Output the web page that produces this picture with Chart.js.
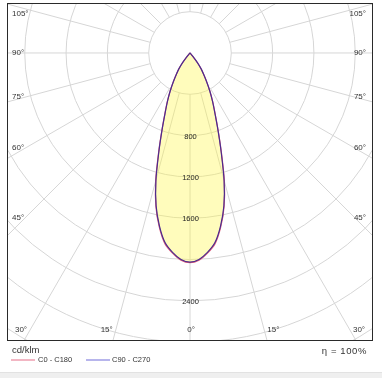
<!DOCTYPE html>
<html>
<head>
<meta charset="utf-8">
<script src="https://cdn.jsdelivr.net/npm/chart.js@4/dist/chart.umd.min.js"></script>
<style>
    body { margin: 0; background: #fff; font-family: Arial, "Liberation Sans", sans-serif; }
    #wrap { position: relative; width: 382px; height: 378px; overflow: hidden; }
    #chartBox { position: absolute; left: 0; top: 0; width: 382px; height: 378px; }
    .txt { position: absolute; color: #333; line-height: 1; white-space: nowrap; }
    .swatch { position: absolute; height: 2px; width: 24px; }
    #band { position: absolute; left: 0; top: 372px; width: 382px; height: 6px; background: #efefef; border-top: 1px solid #e2e2e2; }
</style>
</head>
<body>
<div id="wrap">
    <div id="chartBox"><canvas id="polarChart"></canvas></div>
    <div class="txt" style="left:12px; top:345px; font-size:9.5px;">cd/klm</div>
    <div class="swatch" style="left:11px; top:359px; background:#f2b6c3;"></div>
    <div class="txt" style="left:38px; top:356px; font-size:7.5px;">C0 - C180</div>
    <div class="swatch" style="left:86px; top:359px; background:#b7b5ec;"></div>
    <div class="txt" style="left:112px; top:356px; font-size:7.5px;">C90 - C270</div>
    <div class="txt" style="right:15px; top:346px; font-size:9.5px; letter-spacing:0.6px;">η = 100%</div>
    <div id="band"></div>
</div>
<script>
// Gamma angles (deg, 0 = straight down) and intensities in cd/klm
const gammaAngles = [0, 2.5, 5, 7.5, 10, 12.5, 15, 17.5, 20, 22.5, 25, 27.5, 30, 32.5, 35, 37.5, 40, 42.5, 45, 90, 135, 180];
const c0c180  = [2030, 2008, 1945, 1862, 1712, 1525, 1285, 1012, 795, 635, 520, 418, 326, 248, 190, 122, 42, 0, 0, 0, 0, 0];
const c90c270 = [2025, 2001, 1938, 1852, 1702, 1516, 1275, 1003, 790, 630, 515, 415, 322, 245, 188, 120, 40, 0, 0, 0, 0, 0];

// Grid
const ringValues = [400, 800, 1200, 1600, 2000, 2400, 2800, 3200, 3600, 4000, 4400];
const ringLabels = [800, 1200, 1600, 2400];
const angleTicks = [0, 15, 30, 45, 60, 75, 90, 105];
const spokeStep = 15;

const rad = d => d * Math.PI / 180;

// left half (C180 / C270) from the top down to 0, then right half (C0 / C90) back up
function toPoints(values) {
    const pts = [];
    for (let i = gammaAngles.length - 1; i >= 0; i--) {
        const a = rad(gammaAngles[i]);
        pts.push({ x: -values[i] * Math.sin(a), y: -values[i] * Math.cos(a) });
    }
    for (let i = 1; i < gammaAngles.length; i++) {
        const a = rad(gammaAngles[i]);
        pts.push({ x: values[i] * Math.sin(a), y: -values[i] * Math.cos(a) });
    }
    return pts;
}

const polarGrid = {
    id: 'polarGrid',
    beforeDatasetsDraw(chart) {
        const { ctx, chartArea: area, scales: { x, y } } = chart;
        const cx = x.getPixelForValue(0);
        const cy = y.getPixelForValue(0);
        const k = x.getPixelForValue(1000) - cx;

        ctx.save();
        ctx.beginPath();
        ctx.rect(area.left, area.top, area.right - area.left, area.bottom - area.top);
        ctx.clip();
        ctx.strokeStyle = '#d6d6d6';
        ctx.lineWidth = 1;

        ringValues.forEach(v => {
            ctx.beginPath();
            ctx.arc(cx, cy, v * k / 1000, 0, Math.PI * 2);
            ctx.stroke();
        });

        const r0 = ringValues[0] * k / 1000;
        const r1 = 6000 * k / 1000;
        for (let d = 0; d < 360; d += spokeStep) {
            const a = rad(d);
            const sx = Math.sin(a), sy = Math.cos(a);
            ctx.beginPath();
            ctx.moveTo(cx + sx * r0, cy + sy * r0);
            ctx.lineTo(cx + sx * r1, cy + sy * r1);
            ctx.stroke();
        }
        ctx.restore();
    },
    afterDatasetsDraw(chart) {
        const { ctx, chartArea: area, scales: { x, y } } = chart;
        const cx = x.getPixelForValue(0);
        const cy = y.getPixelForValue(0);

        ctx.save();
        // frame
        ctx.strokeStyle = '#2a2a2a';
        ctx.lineWidth = 1;
        ctx.strokeRect(area.left + 0.5, area.top + 0.5, area.right - area.left - 1, area.bottom - area.top - 1);

        // intensity labels along 0 deg
        ctx.fillStyle = '#1e1e1e';
        ctx.font = '7.5px Arial, "Liberation Sans", sans-serif';
        ctx.textAlign = 'center';
        ctx.textBaseline = 'middle';
        ringLabels.forEach(v => {
            ctx.fillText(String(v), cx + 0.5, y.getPixelForValue(-v) + 1);
        });

        // angle labels
        ctx.fillStyle = '#333';
        ctx.font = '8px Arial, "Liberation Sans", sans-serif';
        const bottomY = area.bottom - 11;
        const sideDx = cx - area.left - 18;
        angleTicks.forEach(d => {
            const a = rad(d);
            [-1, 1].forEach(s => {
                if (d === 0 && s === 1) return;
                const bx = Math.tan(a) * (bottomY - cy);
                if (d < 90 && bx < sideDx) {
                    if (d === 0) {
                        ctx.textAlign = 'center';
                        ctx.fillText(d + '°', cx + 1, bottomY);
                    } else {
                        ctx.textAlign = s < 0 ? 'right' : 'left';
                        ctx.fillText(d + '°', cx + s * (bx + 3), bottomY);
                    }
                } else {
                    let ly = cy + sideDx * Math.cos(a) / Math.sin(a);
                    ly = Math.max(ly, area.top + 11);
                    ctx.textAlign = s < 0 ? 'left' : 'right';
                    ctx.fillText(d + '°', s < 0 ? area.left + 5 : area.right - 7, ly);
                }
            });
        });
        ctx.restore();
    }
};

const canvas = document.getElementById('polarChart');
canvas.chart = new Chart(canvas.getContext('2d'), {
    type: 'line',
    data: {
        datasets: [{
            label: 'C90 - C270',
            data: toPoints(c90c270),
            borderColor: '#4a2c8e',
            borderWidth: 1.2,
            pointRadius: 0,
            tension: 0.25,
            fill: false
        }, {
            label: 'C0 - C180',
            data: toPoints(c0c180),
            borderColor: '#e0607e',
            backgroundColor: 'rgba(255, 247, 70, 0.36)',
            borderWidth: 1.2,
            pointRadius: 0,
            tension: 0.25,
            fill: 'shape'
        }]
    },
    options: {
        responsive: true,
        maintainAspectRatio: false,
        animation: false,
        events: [],
        layout: { padding: { left: 7, top: 3, right: 9, bottom: 37 } },
        plugins: {
            legend: { display: false },
            tooltip: { enabled: false }
        },
        scales: {
            x: { type: 'linear', min: -1772, max: 1772, display: false },
            y: { type: 'linear', min: -2789, max: 484, display: false }
        }
    },
    plugins: [polarGrid]
});
</script>
</body>
</html>
